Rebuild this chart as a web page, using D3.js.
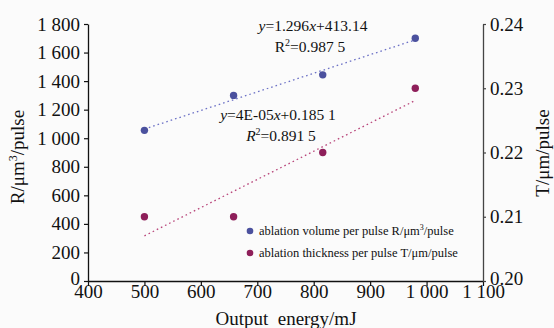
<!DOCTYPE html>
<html><head><meta charset="utf-8">
<script src="https://cdn.jsdelivr.net/npm/d3@7"></script>
<style>
html,body{margin:0;padding:0;background:#fbfbfb;}
text{font-family:"Liberation Serif","Times New Roman",serif;fill:#111;}
</style></head>
<body>
<svg id="c" width="554" height="328"></svg>
<script>
const energy = [500, 658, 816, 980];
const volume = [1055, 1300, 1444, 1700];
const thickness = [0.21, 0.21, 0.22, 0.23];
const xTicks = [400, 500, 600, 700, 800, 900, 1000, 1100];
const yLTicks = [0, 200, 400, 600, 800, 1000, 1200, 1400, 1600, 1800];
const yRTicks = [0.20, 0.21, 0.22, 0.23, 0.24];

const svg = d3.select("#c");
const x = d3.scaleLinear().domain([400, 1100]).range([88, 483]);
const yL = d3.scaleLinear().domain([0, 1800]).range([281, 24]);
const yR = d3.scaleLinear().domain([0.20, 0.24]).range([281, 24]);
const sp = d => d3.format(",")(d).replace(/,/g, " ");

function styleAxis(g, color) {
  g.selectAll("path.domain").attr("stroke", color).attr("stroke-width", 1.3);
  g.selectAll(".tick line").attr("stroke", color).attr("stroke-width", 1.2);
  g.selectAll(".tick text").style("font-family", '"Liberation Serif","Times New Roman",serif')
    .style("font-size", "19px").attr("fill", "#111");
}

const gx = svg.append("g").attr("transform", "translate(0,281)")
  .call(d3.axisBottom(x).tickValues(xTicks).tickFormat(sp).tickSize(5).tickSizeOuter(0));
styleAxis(gx, "#111");
gx.selectAll(".tick text").attr("y", 17).attr("dy", 0);
const gl = svg.append("g").attr("transform", "translate(88,0)")
  .call(d3.axisLeft(yL).tickValues(yLTicks).tickFormat(sp).tickSize(4).tickSizeOuter(0).tickPadding(4));
styleAxis(gl, "#111");
gl.selectAll(".tick text").filter(d => d === 0).attr("dy", "0.2em");
const gr = svg.append("g").attr("transform", "translate(483,0)")
  .call(d3.axisRight(yR).tickValues(yRTicks).tickFormat(d3.format(".2f")).tickSize(3).tickSizeOuter(0).tickPadding(4));
styleAxis(gr, "#444");
gr.selectAll(".tick text").filter(d => d === 0.20).attr("dy", "0.2em");

// least squares trend lines
function fit(xs, ys) {
  const n = xs.length, mx = d3.mean(xs), my = d3.mean(ys);
  let sxy = 0, sxx = 0;
  for (let i = 0; i < n; i++) { sxy += (xs[i]-mx)*(ys[i]-my); sxx += (xs[i]-mx)**2; }
  const b = sxy / sxx; return [b, my - b*mx];
}
const [bv, av] = fit(energy, volume);
const [bt, at] = fit(energy, thickness);
const x0 = d3.min(energy), x1 = d3.max(energy);
svg.append("line").attr("x1", x(x0)).attr("y1", yL(av+bv*x0)).attr("x2", x(x1)).attr("y2", yL(av+bv*x1))
  .attr("stroke", "#6d72c6").attr("stroke-width", 1.3).attr("stroke-dasharray", "1.6,3");
svg.append("line").attr("x1", x(x0)).attr("y1", yR(at+bt*x0)).attr("x2", x(x1)).attr("y2", yR(at+bt*x1))
  .attr("stroke", "#b8457a").attr("stroke-width", 1.3).attr("stroke-dasharray", "1.6,3");

svg.selectAll("circle.v").data(energy).join("circle").attr("class", "v")
  .attr("cx", d => x(d)).attr("cy", (d, i) => yL(volume[i])).attr("r", 3.7).attr("fill", "#4b519e");
svg.selectAll("circle.t").data(energy).join("circle").attr("class", "t")
  .attr("cx", d => x(d)).attr("cy", (d, i) => yR(thickness[i])).attr("r", 3.7).attr("fill", "#8e1f5a");

// equations
function eq(cx, cy, parts) {
  const t = svg.append("text").attr("x", cx).attr("y", cy).attr("text-anchor", "middle").style("font-size", "15.5px");
  parts.forEach(p => {
    const s = t.append("tspan").text(p.t);
    if (p.i) s.style("font-style", "italic");
    if (p.sup) s.attr("dy", -6).style("font-size", "10px");
    if (p.down) s.attr("dy", 6);
  });
}
eq(313, 31, [{t:"y", i:1},{t:"=1.296"},{t:"x", i:1},{t:"+413.14"}]);
eq(310, 52, [{t:"R"},{t:"2", sup:1},{t:"=0.987 5", down:1}]);
eq(278, 120, [{t:"y", i:1},{t:"=4E-05"},{t:"x", i:1},{t:"+0.185 1"}]);
eq(281, 141, [{t:"R", i:1},{t:"2", sup:1},{t:"=0.891 5", down:1}]);

// legend
const leg = [{c:"#4b519e", y:231, parts:[{t:"ablation volume per pulse R/μm"},{t:"3", sup:1},{t:"/pulse", down:1}]},
             {c:"#8e1f5a", y:253, parts:[{t:"ablation thickness per pulse T/μm/pulse"}]}];
leg.forEach(l => {
  svg.append("circle").attr("cx", 250).attr("cy", l.y).attr("r", 3.3).attr("fill", l.c);
  const t = svg.append("text").attr("x", 259).attr("y", l.y + 4).style("font-size", "12.5px");
  l.parts.forEach(p => {
    const s = t.append("tspan").text(p.t);
    if (p.sup) s.attr("dy", -5).style("font-size", "8px");
    if (p.down) s.attr("dy", 5);
  });
});

// axis titles
svg.append("text").attr("x", 286).attr("y", 325).attr("text-anchor", "middle").style("font-size", "19px")
  .style("white-space", "pre").text("Output  energy/mJ");
const lt = svg.append("text").attr("transform", "translate(24,157) rotate(-90)").attr("text-anchor", "middle").style("font-size", "19px");
lt.append("tspan").text("R/μm");
lt.append("tspan").text("3").attr("dy", -7).style("font-size", "12px");
lt.append("tspan").text("/pulse").attr("dy", 7);
svg.append("text").attr("transform", "translate(549,153) rotate(-90)").attr("text-anchor", "middle").style("font-size", "19px")
  .text("T/μm/pulse");
</script>
</body></html>
